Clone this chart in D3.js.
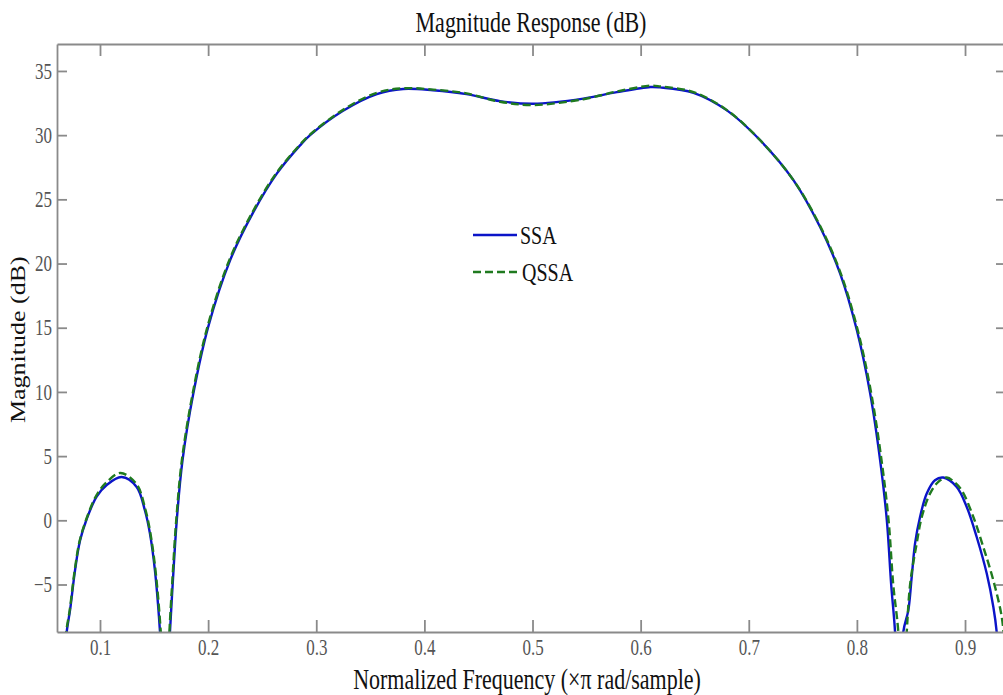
<!DOCTYPE html>
<html>
    <head>
        <meta charset="utf-8">
        <title>Magnitude Response</title>
        <style>
            html, body {
                margin: 0px;
                padding: 0px;
                background-color: #fff;
            }

            svg text {
                font-family: "Liberation Serif", "DejaVu Serif", serif;
                transform-box: fill-box;
                transform-origin: center;
                transform: scaleY(1.3);
            }

            .axis .domain, .axis line {
                stroke: #8a8a8a;
                stroke-width: 1.8;
            }

            .axis text {
                fill: #555;
                font-size: 17px;
            }

            .ylabel {
                transform: rotate(-90deg) scaleX(1.3) !important;
            }
        </style>
        <script src="https://cdn.jsdelivr.net/npm/d3@7"></script>
    </head>
    <body>
        <div id="main"></div>

        <script>
            // values (normalized frequency, dB); values below the axis are the nulls
            var ssaFreq = [0.066, 0.0692, 0.0723, 0.0769, 0.0815, 0.0877, 0.0969, 0.1062, 0.12, 0.1339, 0.1415, 0.1462, 0.1508, 0.1555, 0.160,
                           0.1647, 0.1672, 0.171, 0.1763, 0.1863, 0.2, 0.2203, 0.2418, 0.2635, 0.285,
                           0.2943, 0.3248, 0.356, 0.3803, 0.408, 0.439, 0.47, 0.5006, 0.547, 0.578,
                           0.609, 0.618, 0.6489, 0.6798, 0.7106, 0.7413, 0.766, 0.7846, 0.80, 0.8123,
                           0.8215, 0.8277, 0.8317, 0.8353, 0.839,
                           0.8429, 0.8476, 0.8507, 0.8538, 0.8584, 0.8646, 0.8722, 0.8799, 0.8923, 0.9016,
                           0.9108, 0.9201, 0.9262, 0.9293, 0.933];
            var ssaDb   = [-13, -8.7, -7.0, -3.9, -1.6, 0.1, 1.85, 2.75, 3.37, 2.6, 0.78, -1.04, -3.9, -8.7, -16,
                           -8.7, -5, 0, 4.67, 9.87, 15.05, 20.25, 24.0, 27.0, 29.2,
                           30.0, 31.9, 33.2, 33.6, 33.5, 33.2, 32.65, 32.45, 32.85, 33.35,
                           33.75, 33.72, 33.3, 31.93, 29.6, 26.5, 22.84, 19.2, 14.8, 9.87,
                           4.67, 0, -5, -8.7, -16,
                           -8.7, -7.0, -4.4, -1.8, 0.26, 2.08, 3.12, 3.33, 2.6, 1.04,
                           -1.3, -4.15, -6.75, -8.7, -14];

            var qssaFreq = [0.066, 0.0688, 0.072, 0.0766, 0.0812, 0.0874, 0.0967, 0.1062, 0.119, 0.1339, 0.1418, 0.1466, 0.1513, 0.1562, 0.1605,
                            0.1642, 0.1667, 0.1705, 0.1757, 0.1857, 0.1993, 0.2195, 0.241, 0.2627, 0.2843,
                            0.2936, 0.3244, 0.356, 0.3803, 0.408, 0.439, 0.47, 0.5006, 0.547, 0.578,
                            0.609, 0.618, 0.6489, 0.6798, 0.7106, 0.7413, 0.7665, 0.7852, 0.8008, 0.8133,
                            0.8228, 0.8293, 0.8336, 0.8383, 0.842,
                            0.8461, 0.8495, 0.8553, 0.86, 0.8676, 0.8753, 0.8831, 0.8898, 0.8969, 0.9077,
                            0.9169, 0.9262, 0.9339, 0.937];
            var qssaDb   = [-13, -8.7, -7.0, -3.9, -1.6, 0.1, 1.95, 2.97, 3.69, 2.8, 0.9, -1.0, -3.9, -8.7, -16,
                            -8.7, -5, 0, 4.67, 9.87, 15.05, 20.25, 24.0, 27.0, 29.2,
                            30.0, 31.95, 33.3, 33.65, 33.55, 33.25, 32.6, 32.35, 32.8, 33.4,
                            33.85, 33.8, 33.35, 31.95, 29.6, 26.5, 22.84, 19.2, 14.8, 9.87,
                            4.67, 0, -5, -8.7, -16,
                            -8.7, -4.8, -1.8, 0.26, 2.08, 3.0, 3.33, 3.0, 2.34, 0.26,
                            -2.08, -4.68, -7.5, -10];

            var xTicks = [0.1, 0.2, 0.3, 0.4, 0.5, 0.6, 0.7, 0.8, 0.9];
            var yTicks = [-5, 0, 5, 10, 15, 20, 25, 30, 35];
            var seriesNames = ["SSA", "QSSA"];
            var seriesColors = ["#0b14c8", "#1f7a1f"];

            var width = 1003;
            var height = 695;
            var plotLeft = 57, plotRight = 1006, plotTop = 44, plotBottom = 632;

            function main() {
                var svg = d3.select("#main")
                            .append("svg")
                            .attr("width", width)
                            .attr("height", height);

                var x = d3.scaleLinear()
                            .domain([0.06023, 0.9379])
                            .range([plotLeft, plotRight]);

                var y = d3.scaleLinear()
                            .domain([-8.7, 37.1])
                            .range([plotBottom, plotTop]);

                svg.append("clipPath")
                    .attr("id", "plotclip")
                    .append("rect")
                    .attr("x", plotLeft)
                    .attr("y", plotTop)
                    .attr("width", plotRight - plotLeft)
                    .attr("height", plotBottom - plotTop);

                var line = d3.line()
                    .x(function(d) { return x(d[0]); })
                    .y(function(d) { return y(d[1]); })
                    .curve(d3.curveCatmullRom.alpha(0.5));

                var ssa = d3.zip(ssaFreq, ssaDb);
                var qssa = d3.zip(qssaFreq, qssaDb);

                var plot = svg.append("g").attr("clip-path", "url(#plotclip)");

                plot.append("path")
                    .datum(ssa)
                    .attr("d", line)
                    .attr("fill", "none")
                    .attr("stroke", seriesColors[0])
                    .attr("stroke-width", 2.4);

                plot.append("path")
                    .datum(qssa)
                    .attr("d", line)
                    .attr("fill", "none")
                    .attr("stroke", seriesColors[1])
                    .attr("stroke-width", 2.4)
                    .attr("stroke-dasharray", "8,4");

                // axes: ticks point inward on all four sides
                svg.append("g")
                    .attr("class", "axis")
                    .attr("transform", "translate(0," + plotBottom + ")")
                    .call(d3.axisBottom(x).tickValues(xTicks).tickSizeInner(-12).tickSizeOuter(0).tickPadding(9)
                        .tickFormat(d3.format(".1f")));

                svg.append("g")
                    .attr("class", "axis")
                    .attr("transform", "translate(0," + plotTop + ")")
                    .call(d3.axisTop(x).tickValues(xTicks).tickSizeInner(-12).tickSizeOuter(0).tickFormat(""));

                svg.append("g")
                    .attr("class", "axis")
                    .attr("transform", "translate(" + plotLeft + ",0)")
                    .call(d3.axisLeft(y).tickValues(yTicks).tickSizeInner(-10).tickSizeOuter(0).tickPadding(5));

                svg.append("g")
                    .attr("class", "axis")
                    .attr("transform", "translate(" + plotRight + ",0)")
                    .call(d3.axisRight(y).tickValues(yTicks).tickSizeInner(-10).tickSizeOuter(0).tickFormat(""));

                svg.append("text")
                    .attr("x", 531)
                    .attr("y", 30)
                    .style("text-anchor", "middle")
                    .style("font-size", "22px")
                    .attr("fill", "#111")
                    .text("Magnitude Response (dB)");

                svg.append("text")
                    .attr("x", 527)
                    .attr("y", 687)
                    .style("text-anchor", "middle")
                    .style("font-size", "22px")
                    .attr("fill", "#111")
                    .text("Normalized Frequency (\u00d7\u03c0 rad/sample)");

                svg.append("text")
                    .attr("class", "ylabel")
                    .attr("x", 18)
                    .attr("y", 340)
                    .attr("dy", "0.33em")
                    .style("text-anchor", "middle")
                    .style("font-size", "20px")
                    .attr("fill", "#111")
                    .text("Magnitude (dB)");

                // legend
                var legend = svg.append("g").selectAll("g")
                    .data(seriesNames)
                    .enter()
                    .append("g")
                    .attr("transform", function(d, i) { return "translate(473," + (235 + i * 37) + ")"; });

                legend.append("line")
                    .attr("x1", 0)
                    .attr("x2", 44)
                    .attr("stroke", function(d, i) { return seriesColors[i]; })
                    .attr("stroke-width", 2.4)
                    .attr("stroke-dasharray", function(d, i) { return i === 1 ? "8,4" : null; });

                legend.append("text")
                    .attr("x", function(d, i) { return i === 1 ? 49 : 47; })
                    .attr("dy", "0.33em")
                    .style("font-size", "20px")
                    .attr("fill", "#111")
                    .text(function(d) { return d; });
            }

            main();
        </script>
    </body>
</html>
